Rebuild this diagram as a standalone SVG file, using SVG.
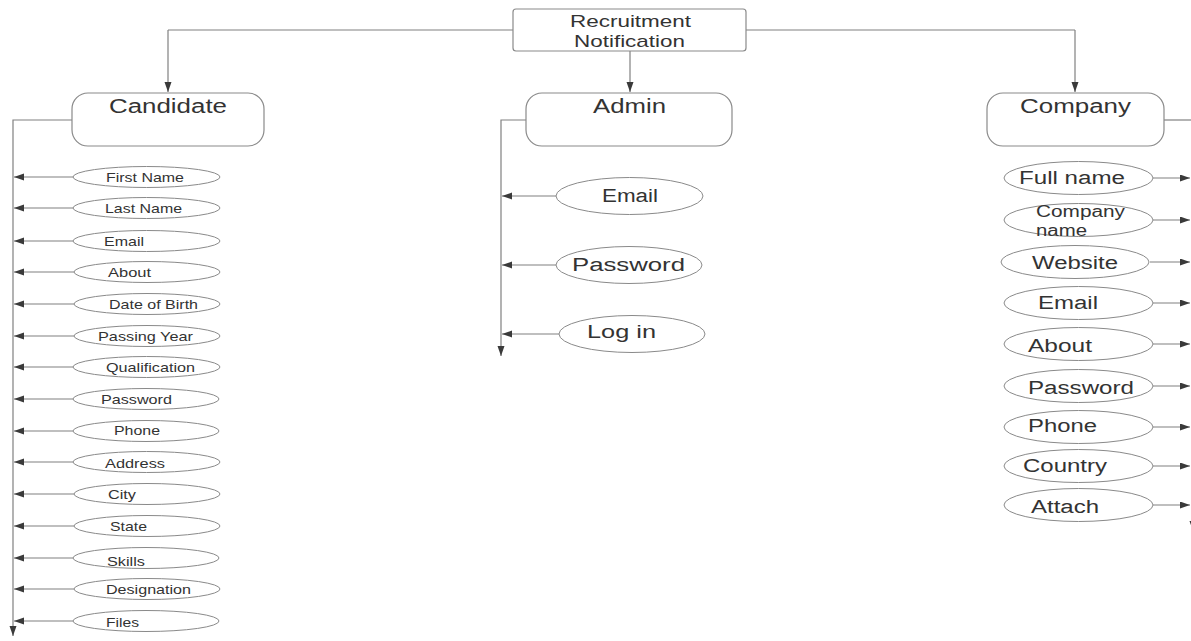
<svg xmlns="http://www.w3.org/2000/svg" width="1191" height="641" viewBox="0 0 1191 641">
<defs>
<marker id="ah" markerUnits="userSpaceOnUse" markerWidth="11" markerHeight="8" refX="10" refY="3.5" orient="auto">
<path d="M0,0 L10,3.5 L0,7 Z" fill="#3a3a3a"/>
</marker>
<style>
.box{fill:#fff;stroke:#8a8a8a;stroke-width:1.2}
.ell{fill:#fff;stroke:#8a8a8a;stroke-width:1}
.ln{fill:none;stroke:#808080;stroke-width:1.2}
.ar{fill:none;stroke:#808080;stroke-width:1.2;marker-end:url(#ah)}
text{font-family:"Liberation Sans",Arial,sans-serif;fill:#333;}
.h{font-size:20px}
.s{font-size:13.5px}
.m{font-size:18px}
.t{font-size:17px}
.cn{font-size:16px}
</style>
</defs>
<rect width="1191" height="641" fill="#fff"/>

<g id="connectors">
<path class="ln" d="M513,30 H168"/>
<path class="ar" d="M168,30 V92"/>
<path class="ln" d="M746,30 H1075"/>
<path class="ar" d="M1075,30 V92"/>
<path class="ar" d="M630,51 V92"/>
<path class="ar" d="M72,120 H13 V636"/>
<path class="ar" d="M73,177 H14"/>
<path class="ar" d="M73,208 H14"/>
<path class="ar" d="M73,241 H14"/>
<path class="ar" d="M74,272 H14"/>
<path class="ar" d="M74,304 H14"/>
<path class="ar" d="M74,336 H14"/>
<path class="ar" d="M73,367 H14"/>
<path class="ar" d="M73,399 H14"/>
<path class="ar" d="M73,431 H14"/>
<path class="ar" d="M73,462 H14"/>
<path class="ar" d="M74,494 H14"/>
<path class="ar" d="M74,526 H14"/>
<path class="ar" d="M73,558 H14"/>
<path class="ar" d="M74,589 H14"/>
<path class="ar" d="M73,621 H14"/>
<path class="ar" d="M526,120 H501 V356"/>
<path class="ar" d="M556,196 H502"/>
<path class="ar" d="M556,265 H502"/>
<path class="ar" d="M559,334 H502"/>
<path class="ln" d="M1164,120 H1193"/>
<path class="ar" d="M1193,120 V531"/>
<path class="ar" d="M1153,178 H1190"/>
<path class="ar" d="M1153,220 H1190"/>
<path class="ar" d="M1150,262 H1190"/>
<path class="ar" d="M1153,303 H1190"/>
<path class="ar" d="M1153,344 H1190"/>
<path class="ar" d="M1153,386 H1190"/>
<path class="ar" d="M1153,427 H1190"/>
<path class="ar" d="M1153,466 H1190"/>
<path class="ar" d="M1153,505 H1190"/>
</g>

<g id="recruitment">
<rect class="box" x="513" y="9" width="233" height="42" rx="3"/>
<text class="t" x="570" y="27" textLength="121" lengthAdjust="spacingAndGlyphs">Recruitment</text>
<text class="t" x="574" y="47" textLength="111" lengthAdjust="spacingAndGlyphs">Notification</text>
</g>

<g id="candidate">
<rect class="box" x="72" y="93" width="192" height="53" rx="16"/>
<text class="h" x="109" y="113" textLength="118" lengthAdjust="spacingAndGlyphs">Candidate</text>
</g>
<g id="admin">
<rect class="box" x="526" y="93" width="206" height="53" rx="16"/>
<text class="h" x="593" y="113" textLength="73" lengthAdjust="spacingAndGlyphs">Admin</text>
</g>
<g id="company">
<rect class="box" x="987" y="93" width="177" height="53" rx="16"/>
<text class="h" x="1020" y="113" textLength="111" lengthAdjust="spacingAndGlyphs">Company</text>
</g>

<g id="c-firstname"><ellipse class="ell" cx="146.5" cy="177" rx="73.5" ry="10.5"/><text class="s" x="106" y="182" textLength="78" lengthAdjust="spacingAndGlyphs">First Name</text></g>
<g id="c-lastname"><ellipse class="ell" cx="146.5" cy="208" rx="73.5" ry="10.5"/><text class="s" x="105" y="213" textLength="77" lengthAdjust="spacingAndGlyphs">Last Name</text></g>
<g id="c-email"><ellipse class="ell" cx="146.5" cy="241" rx="73.5" ry="10.5"/><text class="s" x="104" y="246" textLength="40" lengthAdjust="spacingAndGlyphs">Email</text></g>
<g id="c-about"><ellipse class="ell" cx="147" cy="272" rx="73" ry="10.5"/><text class="s" x="108" y="277" textLength="43" lengthAdjust="spacingAndGlyphs">About</text></g>
<g id="c-dob"><ellipse class="ell" cx="147" cy="304" rx="73" ry="10.5"/><text class="s" x="109" y="309" textLength="89" lengthAdjust="spacingAndGlyphs">Date of Birth</text></g>
<g id="c-passing"><ellipse class="ell" cx="147" cy="336" rx="73" ry="10.5"/><text class="s" x="98" y="341" textLength="95" lengthAdjust="spacingAndGlyphs">Passing Year</text></g>
<g id="c-qual"><ellipse class="ell" cx="146.5" cy="367" rx="73.5" ry="10.5"/><text class="s" x="106" y="372" textLength="89" lengthAdjust="spacingAndGlyphs">Qualification</text></g>
<g id="c-password"><ellipse class="ell" cx="146" cy="399" rx="73" ry="10.5"/><text class="s" x="101" y="404" textLength="71" lengthAdjust="spacingAndGlyphs">Password</text></g>
<g id="c-phone"><ellipse class="ell" cx="146" cy="431" rx="73" ry="10.5"/><text class="s" x="114" y="435" textLength="46" lengthAdjust="spacingAndGlyphs">Phone</text></g>
<g id="c-address"><ellipse class="ell" cx="146.5" cy="462" rx="73.5" ry="10.5"/><text class="s" x="105" y="468" textLength="60" lengthAdjust="spacingAndGlyphs">Address</text></g>
<g id="c-city"><ellipse class="ell" cx="147" cy="494" rx="73" ry="10.5"/><text class="s" x="108" y="499" textLength="28" lengthAdjust="spacingAndGlyphs">City</text></g>
<g id="c-state"><ellipse class="ell" cx="147" cy="526" rx="73" ry="10.5"/><text class="s" x="110" y="531" textLength="37" lengthAdjust="spacingAndGlyphs">State</text></g>
<g id="c-skills"><ellipse class="ell" cx="146" cy="558" rx="73" ry="10.5"/><text class="s" x="107" y="566" textLength="38" lengthAdjust="spacingAndGlyphs">Skills</text></g>
<g id="c-designation"><ellipse class="ell" cx="147" cy="589" rx="73" ry="10.5"/><text class="s" x="106" y="594" textLength="85" lengthAdjust="spacingAndGlyphs">Designation</text></g>
<g id="c-files"><ellipse class="ell" cx="146" cy="621" rx="73" ry="10.5"/><text class="s" x="106" y="627" textLength="33" lengthAdjust="spacingAndGlyphs">Files</text></g>

<g id="a-email"><ellipse class="ell" cx="629.5" cy="196" rx="73.5" ry="18.5"/><text class="m" x="602" y="202" textLength="56" lengthAdjust="spacingAndGlyphs">Email</text></g>
<g id="a-password"><ellipse class="ell" cx="629" cy="265" rx="73" ry="18.5"/><text class="m" x="572" y="271" textLength="113" lengthAdjust="spacingAndGlyphs">Password</text></g>
<g id="a-login"><ellipse class="ell" cx="632" cy="334" rx="73" ry="18.5"/><text class="m" x="587" y="338" textLength="69" lengthAdjust="spacingAndGlyphs">Log in</text></g>

<g id="co-fullname"><ellipse class="ell" cx="1078.5" cy="178" rx="74.5" ry="16.5"/><text class="m" x="1019" y="184" textLength="106" lengthAdjust="spacingAndGlyphs">Full name</text></g>
<g id="co-companyname"><ellipse class="ell" cx="1078.5" cy="220" rx="74.5" ry="16.5"/><text class="cn" x="1036" y="217" textLength="89" lengthAdjust="spacingAndGlyphs">Company</text><text class="cn" x="1036" y="236" textLength="51" lengthAdjust="spacingAndGlyphs">name</text></g>
<g id="co-website"><ellipse class="ell" cx="1075" cy="262" rx="74" ry="16.5"/><text class="m" x="1032" y="269" textLength="86" lengthAdjust="spacingAndGlyphs">Website</text></g>
<g id="co-email"><ellipse class="ell" cx="1078.5" cy="303" rx="74.5" ry="16.5"/><text class="m" x="1038" y="309" textLength="60" lengthAdjust="spacingAndGlyphs">Email</text></g>
<g id="co-about"><ellipse class="ell" cx="1078.5" cy="344" rx="74.5" ry="16.5"/><text class="m" x="1028" y="352" textLength="64" lengthAdjust="spacingAndGlyphs">About</text></g>
<g id="co-password"><ellipse class="ell" cx="1078.5" cy="386" rx="74.5" ry="16.5"/><text class="m" x="1028" y="394" textLength="106" lengthAdjust="spacingAndGlyphs">Password</text></g>
<g id="co-phone"><ellipse class="ell" cx="1078.5" cy="427" rx="74.5" ry="16.5"/><text class="m" x="1028" y="432" textLength="69" lengthAdjust="spacingAndGlyphs">Phone</text></g>
<g id="co-country"><ellipse class="ell" cx="1078.5" cy="466" rx="74.5" ry="16.5"/><text class="m" x="1023" y="472" textLength="84" lengthAdjust="spacingAndGlyphs">Country</text></g>
<g id="co-attach"><ellipse class="ell" cx="1078.5" cy="505" rx="74.5" ry="16.5"/><text class="m" x="1031" y="513" textLength="68" lengthAdjust="spacingAndGlyphs">Attach</text></g>
</svg>
